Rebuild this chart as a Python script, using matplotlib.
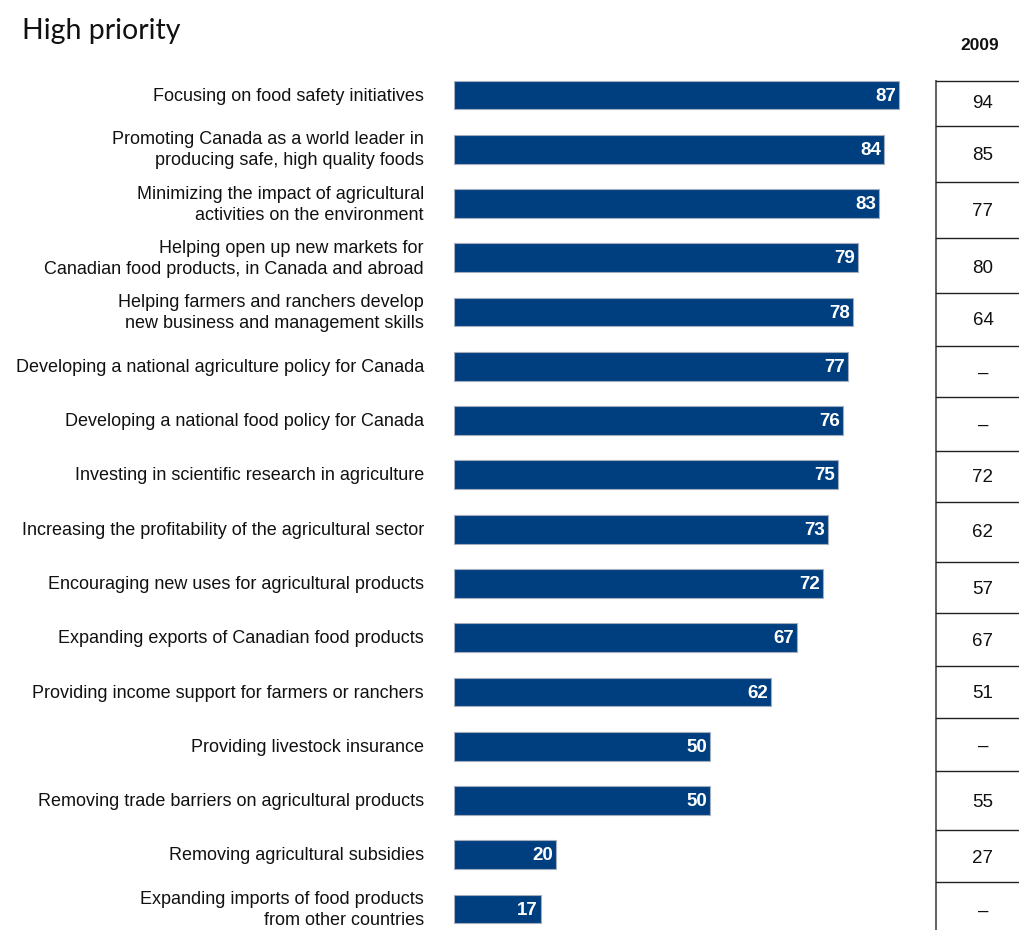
import matplotlib
matplotlib.use("Agg")
import matplotlib.pyplot as plt

# Survey results: share rating each item a high priority
items = [
    "Focusing on food safety initiatives",
    "Promoting Canada as a world leader in\nproducing safe, high quality foods",
    "Minimizing the impact of agricultural\nactivities on the environment",
    "Helping open up new markets for\nCanadian food products, in Canada and abroad",
    "Helping farmers and ranchers develop\nnew business and management skills",
    "Developing a national agriculture policy for Canada",
    "Developing a national food policy for Canada",
    "Investing in scientific research in agriculture",
    "Increasing the profitability of the agricultural sector",
    "Encouraging new uses for agricultural products",
    "Expanding exports of Canadian food products",
    "Providing income support for farmers or ranchers",
    "Providing livestock insurance",
    "Removing trade barriers on agricultural products",
    "Removing agricultural subsidies",
    "Expanding imports of food products\nfrom other countries",
]
current = [87, 84, 83, 79, 78, 77, 76, 75, 73, 72, 67, 62, 50, 50, 20, 17]
prev_2009 = ["94", "85", "77", "80", "64", "\u2013", "\u2013", "72", "62", "57",
             "67", "51", "\u2013", "55", "27", "\u2013"]

W, H = 1019, 930
fig = plt.figure(figsize=(W / 100, H / 100), dpi=100)

label_font = ["Liberation Sans", "DejaVu Sans"]
navy = "#003f7f"

# bar axes in pixel geometry
x0, px_per_unit = 454, 5.12
y_first, y_last = 95, 909
step = (y_last - y_first) / (len(items) - 1)
top_px, bot_px = 40, H
ax = fig.add_axes([x0 / W, 0, (W - x0) / W, (H - top_px) / H])
ax.set_xlim(0, (W - x0) / px_per_unit)
ax.set_ylim((bot_px - y_first) / step, (top_px - y_first) / step)
ax.axis("off")

ypos = list(range(len(items)))
ax.barh(ypos, current, height=0.53, color=navy, edgecolor="#a4adbd", linewidth=0.8)
for y, v in zip(ypos, current):
    ax.text(v - 0.6, y + 0.02, str(v), color="white", fontweight="bold",
            ha="right", va="center", fontsize=13.5, family=label_font)

# category labels
for y, lab in zip(ypos, items):
    ax.text(-5.9, y + 0.02, lab, ha="right", va="center", fontsize=13,
            family=label_font, color="#111111", linespacing=1.32,
            multialignment="right")

# 2009 column drawn as a bordered table
tab = fig.add_axes([0, 0, 1, 1])
tab.set_xlim(0, W)
tab.set_ylim(H, 0)
tab.axis("off")
row_lines = [81, 126, 182, 238, 293, 346, 397, 451, 502, 562, 613, 666, 718, 771, 830, 882]
value_y = [104, 155, 211, 268, 320, 373, 425, 477, 532, 589, 641, 693, 746, 802, 858, 911]
tab.plot([936.5, 936.5], [row_lines[0], H], color="#555555", lw=1.3)
for ly in row_lines:
    tab.plot([936.5, W], [ly, ly], color="#222222", lw=1.0)
for vy, s in zip(value_y, prev_2009):
    tab.text(983, vy, s, ha="center", va="center", fontsize=13.5,
             family=label_font, color="#111111")
tab.text(980, 46, "2009", ha="center", va="center", fontsize=12.5,
         fontweight="bold", family=label_font, color="#111111")

tab.text(22, 31, "High priority", ha="left", va="center", fontsize=20.5,
         family=["Lato", "DejaVu Sans"], color="#111111")

fig.savefig("out.png", dpi=100)
